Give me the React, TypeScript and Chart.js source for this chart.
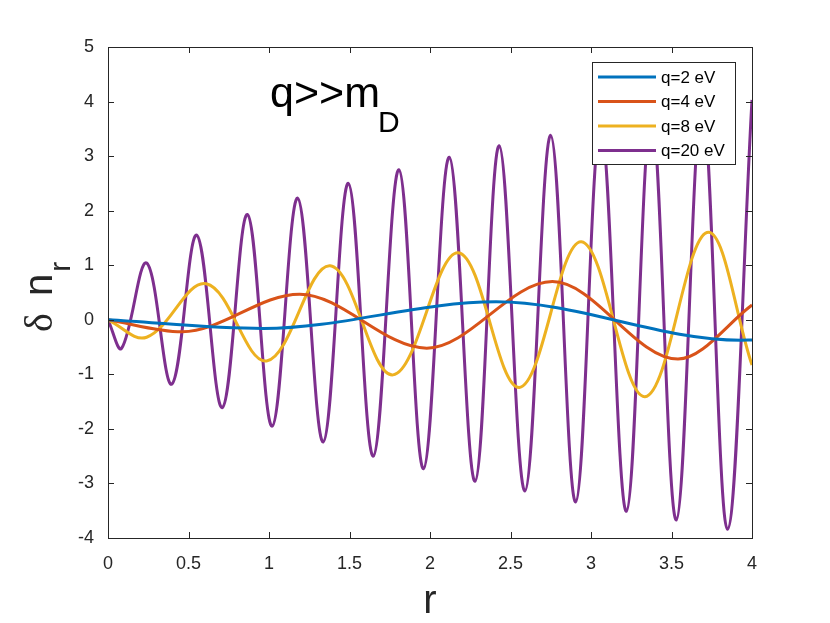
import React, { useRef, useEffect } from "react";
import { Chart, registerables } from "chart.js";

Chart.register(...registerables);

// q = 2 eV
const rQ2 = [0, 0.965, 2.41, 3.93, 4.0];
const nQ2 = [0, -0.16, 0.33, -0.375, -0.37];

// q = 4 eV
const rQ4 = [0, 0.46, 1.19, 1.98, 2.76, 3.54, 4.0];
const nQ4 = [0, -0.22, 0.47, -0.52, 0.7, -0.72, 0.27];

// q = 8 eV
const rQ8 = [0, 0.24, 0.61, 0.985, 1.38, 1.77, 2.176, 2.555, 2.94, 3.335, 3.72, 4.0];
const nQ8 = [0, -0.32, 0.66, -0.755, 0.99, -1.01, 1.23, -1.24, 1.43, -1.41, 1.6, -0.83];

// q = 20 eV
const rQ20 = [
  0, 0.085, 0.24, 0.396, 0.551, 0.71, 0.866, 1.02, 1.178, 1.337, 1.493, 1.648, 1.807, 1.96,
  2.12, 2.28, 2.43, 2.59, 2.75, 2.905, 3.06, 3.22, 3.375, 3.53, 3.69, 3.847, 4.0,
];
const nQ20 = [
  0, -0.52, 1.04, -1.18, 1.55, -1.61, 1.93, -1.95, 2.23, -2.24, 2.5, -2.5, 2.75, -2.73,
  2.98, -2.96, 3.19, -3.14, 3.38, -3.34, 3.58, -3.51, 3.78, -3.67, 3.98, -3.84, 4.03,
];

const seriesLabels = ["q=2 eV", "q=4 eV", "q=8 eV", "q=20 eV"];
const seriesColors = ["#0072BD", "#D95319", "#EDB120", "#7E2F8E"];
// slow curves keep flat extrema, fast ones get rounder peaks
const seriesMonotone = [true, true, false, false];
const xTicks = [0, 0.5, 1, 1.5, 2, 2.5, 3, 3.5, 4];
const yTicks = [-4, -3, -2, -1, 0, 1, 2, 3, 4, 5];

const FONT = "'Liberation Sans', Arial, sans-serif";
const AXIS_COLOR = "#262626";

const toPoints = (xs: number[], ys: number[]) => xs.map((x, i) => ({ x, y: ys[i] }));

// frame, inward ticks, legend and text labels drawn like the MATLAB figure
const figurePlugin = {
  id: "figureDecor",
  afterDraw(chart: Chart) {
    const ctx = chart.ctx;
    const { left, right, top, bottom } = chart.chartArea;
    const xs = chart.scales.x;
    const ys = chart.scales.y;
    ctx.save();

    ctx.strokeStyle = AXIS_COLOR;
    ctx.lineWidth = 1;
    ctx.strokeRect(left + 0.5, top + 0.5, right - left, bottom - top);
    ctx.beginPath();
    xTicks.forEach((t) => {
      const px = Math.round(xs.getPixelForValue(t)) + 0.5;
      ctx.moveTo(px, bottom);
      ctx.lineTo(px, bottom - 6);
      ctx.moveTo(px, top);
      ctx.lineTo(px, top + 6);
    });
    yTicks.forEach((t) => {
      const py = Math.round(ys.getPixelForValue(t)) + 0.5;
      ctx.moveTo(left, py);
      ctx.lineTo(left + 6, py);
      ctx.moveTo(right, py);
      ctx.lineTo(right - 6, py);
    });
    ctx.stroke();

    // legend
    const lx = 592;
    const ly = 62;
    const lw = 143;
    const lh = 102;
    ctx.fillStyle = "#ffffff";
    ctx.fillRect(lx, ly, lw, lh);
    ctx.strokeRect(lx + 0.5, ly + 0.5, lw, lh);
    ctx.font = `17px ${FONT}`;
    ctx.textBaseline = "middle";
    ctx.textAlign = "left";
    seriesLabels.forEach((label, i) => {
      const yy = ly + 15 + i * 24.5;
      ctx.strokeStyle = seriesColors[i];
      ctx.lineWidth = 3;
      ctx.beginPath();
      ctx.moveTo(lx + 6, yy);
      ctx.lineTo(lx + 64, yy);
      ctx.stroke();
      ctx.fillStyle = "#000000";
      ctx.fillText(label, lx + 69, yy + 1);
    });

    // annotation
    ctx.fillStyle = "#000000";
    ctx.textBaseline = "alphabetic";
    ctx.font = `43px ${FONT}`;
    ctx.fillText("q>>m", 270, 107);
    const w = ctx.measureText("q>>m").width;
    ctx.font = `30px ${FONT}`;
    ctx.fillText("D", 270 + w - 2, 132);

    // x label
    ctx.fillStyle = AXIS_COLOR;
    ctx.font = `40px ${FONT}`;
    ctx.textAlign = "center";
    ctx.fillText("r", 430, 613);

    // y label
    ctx.translate(52, 332);
    ctx.rotate(-Math.PI / 2);
    ctx.textAlign = "left";
    ctx.font = `40px 'Liberation Serif', serif`;
    ctx.fillText("\u03b4", 0, 0);
    ctx.font = `40px ${FONT}`;
    ctx.fillText("n", 36, 0);
    const nw = ctx.measureText("n").width;
    ctx.font = `30px ${FONT}`;
    ctx.fillText("r", 36 + nw + 2, 18);

    ctx.restore();
  },
};

const App: React.FC = () => {
  const canvasRef = useRef<HTMLCanvasElement>(null);
  const chartRef = useRef<Chart | null>(null);

  useEffect(() => {
    const ctx = canvasRef.current?.getContext("2d");
    if (!ctx) return;
    if (chartRef.current) chartRef.current.destroy();

    const series = [
      toPoints(rQ2, nQ2),
      toPoints(rQ4, nQ4),
      toPoints(rQ8, nQ8),
      toPoints(rQ20, nQ20),
    ];

    chartRef.current = new Chart(ctx, {
      type: "line",
      data: {
        datasets: series.map((data, i) => ({
          label: seriesLabels[i],
          data,
          borderColor: seriesColors[i],
          borderWidth: 3,
          pointRadius: 0,
          fill: false,
          tension: 0.37,
          cubicInterpolationMode: seriesMonotone[i] ? ("monotone" as const) : ("default" as const),
        })),
      },
      options: {
        animation: false,
        responsive: false,
        devicePixelRatio: 1,
        layout: { padding: { top: 47, right: 78, left: 0, bottom: 0 } },
        scales: {
          x: {
            type: "linear",
            min: 0,
            max: 4,
            afterFit: (s: any) => {
              s.height = 85;
            },
            afterBuildTicks: (s: any) => {
              s.ticks = xTicks.map((v) => ({ value: v }));
            },
            ticks: {
              font: { size: 18, family: FONT },
              color: AXIS_COLOR,
              padding: 7,
              maxRotation: 0,
              callback: (v: any) => String(v),
            },
            grid: { display: false },
            border: { display: false },
          },
          y: {
            min: -4,
            max: 5,
            afterFit: (s: any) => {
              s.width = 108;
            },
            afterBuildTicks: (s: any) => {
              s.ticks = yTicks.map((v) => ({ value: v }));
            },
            ticks: {
              font: { size: 18, family: FONT },
              color: AXIS_COLOR,
              padding: 6,
              callback: (v: any) => String(v),
            },
            grid: { display: false },
            border: { display: false },
          },
        },
        plugins: {
          legend: { display: false },
          tooltip: { enabled: false },
        },
      },
      plugins: [figurePlugin],
    });

    return () => {
      if (chartRef.current) {
        chartRef.current.destroy();
        chartRef.current = null;
      }
    };
  }, []);

  return (
    <div style={{ position: "absolute", left: 0, top: 0, width: 830, height: 623, background: "#ffffff" }}>
      <canvas ref={canvasRef} width={830} height={623} style={{ display: "block" }} />
    </div>
  );
};

export default App;
